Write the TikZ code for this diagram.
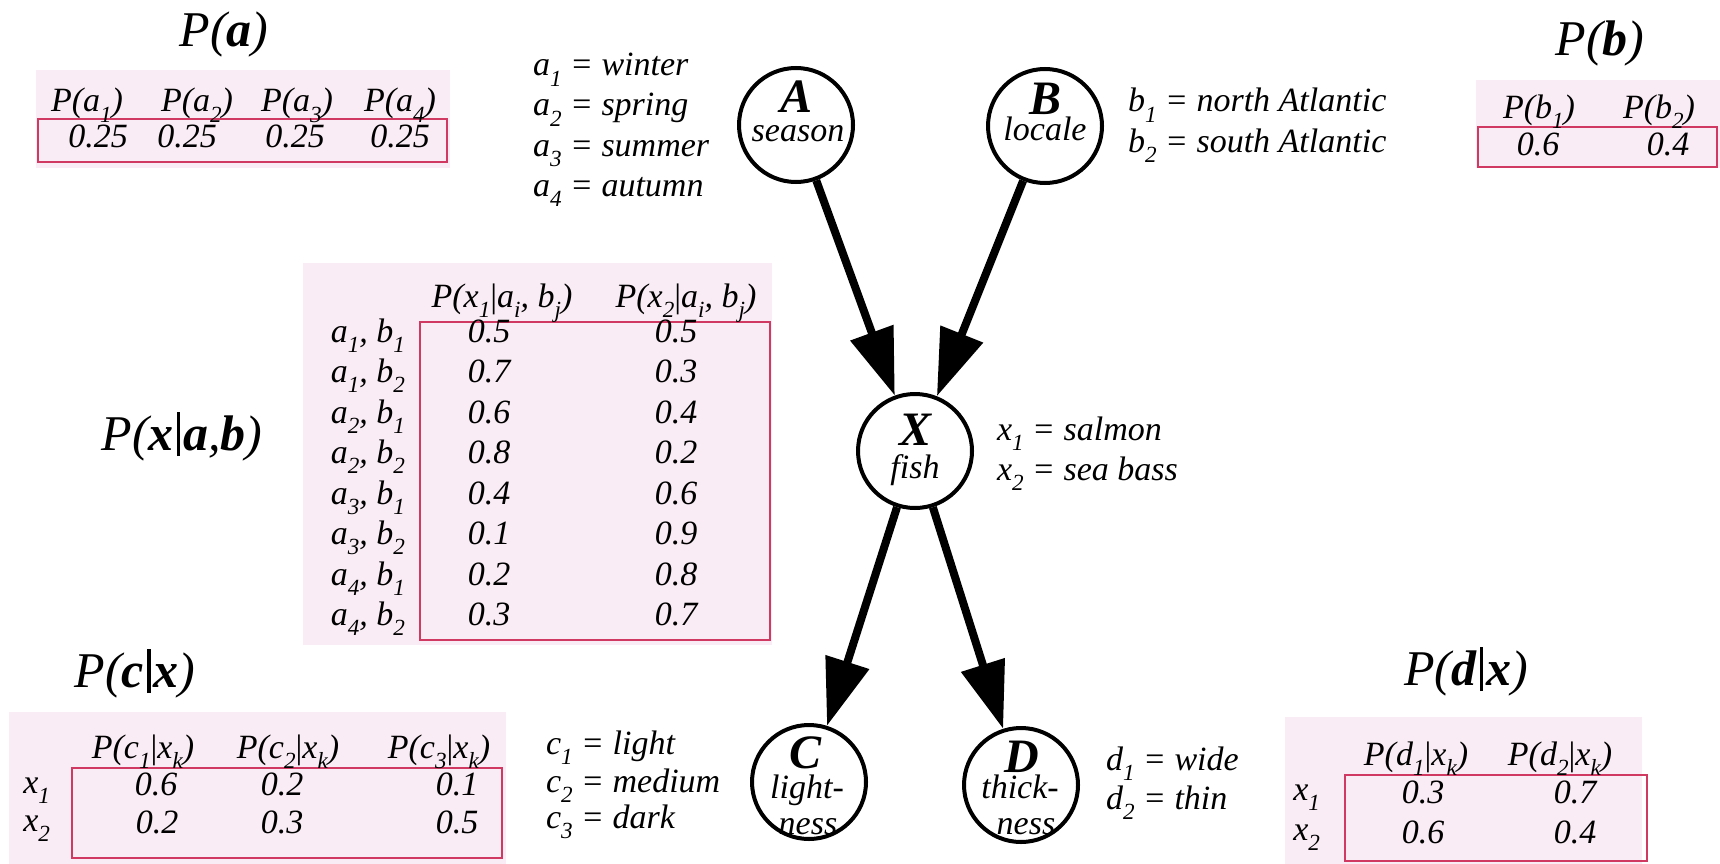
\documentclass[tikz,border=0pt]{standalone}
\usepackage{fontspec}
\usepackage{graphicx}
\setmainfont{Liberation Serif}
\usetikzlibrary{arrows.meta}
\definecolor{cptpink}{RGB}{249,236,244}
\definecolor{cptred}{RGB}{208,58,98}
% lowered, reduced index
\newcommand{\dn}[1]{\raisebox{-0.3em}{\scalebox{0.68}{#1}}}
% upright heavy bar of the conditional titles
\newcommand{\cbar}{\hspace{0.06em}\rule[-0.12em]{0.07em}{0.88em}\hspace{0.06em}}
\tikzset{
  every node/.style={inner sep=0pt, outer sep=0pt},
  tab/.style={anchor=base, font=\fontsize{34}{40}\selectfont\itshape},
  rowlab/.style={anchor=base east, font=\fontsize{34}{40}\selectfont\itshape},
  ttl/.style={anchor=base, font=\fontsize{50}{60}\selectfont\itshape},
  lbl/.style={anchor=base west, font=\fontsize{34}{40}\selectfont\itshape},
  var/.style={circle, draw, line width=4pt, minimum size=114pt, outer sep=2pt},
  big/.style={anchor=base, font=\fontsize{48}{50}\selectfont\bfseries\itshape},
  word/.style={anchor=base, font=\fontsize{34}{40}\selectfont\itshape},
  link/.style={line width=8pt, -{Triangle[length=67pt,width=44pt]}},
  bg/.style={fill=cptpink, draw=none},
  frame/.style={draw=cptred, line width=2.5pt},
}
\begin{document}
\begin{tikzpicture}[x=1pt, y=-1pt]
\useasboundingbox[fill=white] (0,0) rectangle (1720,864);

% ---------- table backgrounds and frames ----------
\fill[bg] (36,70) rectangle (450,168);
\draw[frame] (38,119) rectangle (447,162);
\fill[bg] (1476,80) rectangle (1720,168);
\draw[frame] (1478,127) rectangle (1717,167);
\fill[bg] (303,263) rectangle (772,645);
\draw[frame] (420,322) rectangle (770,640);
\fill[bg] (9,712) rectangle (506,864);
\draw[frame] (72,768) rectangle (502,858);
\fill[bg] (1285,717) rectangle (1642,864);
\draw[frame] (1345,775) rectangle (1647,861);

% ---------- titles ----------
\node[ttl] (ta) at (224,47) {P(\textbf{a})};
\node[ttl] (tb) at (1600,56) {P(\textbf{b})};
\node[ttl] (tx) at (182,450) {P(\textbf{x}\cbar\textbf{a},\textbf{b})};
\node[ttl] (tc) at (135,687) {P(\textbf{c}\cbar\textbf{x})};
\node[ttl] (td) at (1466,685) {P(\textbf{d}\cbar\textbf{x})};

% ---------- P(a) ----------
\node[tab] (ha1) at (87,112) {P(a\dn{1})};
\node[tab] (ha2) at (197,112) {P(a\dn{2})};
\node[tab] (ha3) at (297,112) {P(a\dn{3})};
\node[tab] (ha4) at (400,112) {P(a\dn{4})};
\node[tab] (va1) at (98,147) {0.25};
\node[tab] (va2) at (187,147) {0.25};
\node[tab] (va3) at (295,147) {0.25};
\node[tab] (va4) at (400,147) {0.25};

% ---------- P(b) ----------
\node[tab] (hb1) at (1539,118) {P(b\dn{1})};
\node[tab] (hb2) at (1659,118) {P(b\dn{2})};
\node[tab] (vb1) at (1538,155) {0.6};
\node[tab] (vb2) at (1668,155) {0.4};

% ---------- P(x|a,b) ----------
\node[tab] (hx1) at (502,307) {P(x\dn{1}\textup{|}a\dn{i}, b\dn{j})};
\node[tab] (hx2) at (686,307) {P(x\dn{2}\textup{|}a\dn{i}, b\dn{j})};
\foreach \i/\a/\b/\p/\q/\y in {1/1/1/0.5/0.5/342, 2/1/2/0.7/0.3/382,
    3/2/1/0.6/0.4/423, 4/2/2/0.8/0.2/463, 5/3/1/0.4/0.6/504,
    6/3/2/0.1/0.9/544, 7/4/1/0.2/0.8/585, 8/4/2/0.3/0.7/625}{
  \node[rowlab] (rx\i) at (405,\y) {a\dn{\a}, b\dn{\b}};
  \node[tab] (px\i) at (489,\y) {\p};
  \node[tab] (qx\i) at (676,\y) {\q};
}

% ---------- P(c|x) ----------
\node[tab] (hc1) at (143,758) {P(c\dn{1}\textup{|}x\dn{k})};
\node[tab] (hc2) at (288,758) {P(c\dn{2}\textup{|}x\dn{k})};
\node[tab] (hc3) at (439,758) {P(c\dn{3}\textup{|}x\dn{k})};
\node[rowlab] (rc1) at (50,793) {x\dn{1}};
\node[rowlab] (rc2) at (50,831) {x\dn{2}};
\node[tab] (c11) at (156,795) {0.6};
\node[tab] (c12) at (282,795) {0.2};
\node[tab] (c13) at (457,795) {0.1};
\node[tab] (c21) at (157,833) {0.2};
\node[tab] (c22) at (282,833) {0.3};
\node[tab] (c23) at (457,833) {0.5};

% ---------- P(d|x) ----------
\node[tab] (hd1) at (1416,765) {P(d\dn{1}\textup{|}x\dn{k})};
\node[tab] (hd2) at (1560,765) {P(d\dn{2}\textup{|}x\dn{k})};
\node[rowlab] (rd1) at (1320,800) {x\dn{1}};
\node[rowlab] (rd2) at (1320,840) {x\dn{2}};
\node[tab] (d11) at (1423,803) {0.3};
\node[tab] (d12) at (1575,803) {0.7};
\node[tab] (d21) at (1423,843) {0.6};
\node[tab] (d22) at (1575,843) {0.4};

% ---------- state lists ----------
\node[lbl] (la1) at (533,76) {a\dn{1} = winter};
\node[lbl] (la2) at (533,116) {a\dn{2} = spring};
\node[lbl] (la3) at (533,156) {a\dn{3} = summer};
\node[lbl] (la4) at (533,196) {a\dn{4} = autumn};
\node[lbl] (lb1) at (1128,112) {b\dn{1} = north Atlantic};
\node[lbl] (lb2) at (1128,152) {b\dn{2} = south Atlantic};
\node[lbl] (lx1) at (997,440) {x\dn{1} = salmon};
\node[lbl] (lx2) at (997,480) {x\dn{2} = sea bass};
\node[lbl] (lc1) at (546,754) {c\dn{1} = light};
\node[lbl] (lc2) at (546,792) {c\dn{2} = medium};
\node[lbl] (lc3) at (546,828) {c\dn{3} = dark};
\node[lbl] (ld1) at (1106,770) {d\dn{1} = wide};
\node[lbl] (ld2) at (1106,809) {d\dn{2} = thin};

% ---------- network ----------
\node[var] (A) at (796,125) {};
\node[var] (B) at (1045,126) {};
\node[var] (X) at (915,451) {};
\node[var] (C) at (809,782) {};
\node[var] (D) at (1021,785) {};

\node[big]  (Al) at (796,113) {A};
\node[word] (Aw) at (798,142) {season};
\node[big]  (Bl) at (1045,115) {B};
\node[word] (Bw) at (1045,140) {locale};
\node[big]  (Xl) at (915,445) {X};
\node[word] (Xw) at (915,478) {fish};
\node[big]  (Cl) at (805,768) {C};
\node[word] (Cw) at (807,798) {light-};
\node[word] (Cn) at (808,834) {ness};
\node[big]  (Dl) at (1022,772) {D};
\node[word] (Dw) at (1020,798) {thick-};
\node[word] (Dn) at (1026,834) {ness};

\draw[link] (A) -- (X);
\draw[link] (B) -- (X);
\draw[link] (X) -- (C);
\draw[link] (X) -- (D);
\end{tikzpicture}
\end{document}
